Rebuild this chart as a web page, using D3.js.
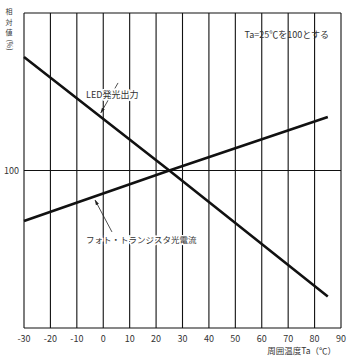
<!DOCTYPE html>
<html>
<head>
<meta charset="utf-8">
<script src="https://cdn.jsdelivr.net/npm/d3@7"></script>
<style>
  body { margin: 0; background: #fff; }
  text { font-family: "Noto Sans CJK JP", "Noto Sans", sans-serif; fill: #333; }
</style>
</head>
<body>
<div id="chart"></div>
<script>
// Chart data
const temps = [-30, 25, 85];
const ledOutput = [136, 100, 60];
const photoCurrent = [84, 100, 117];
const xTicks = [-30, -20, -10, 0, 10, 20, 30, 40, 50, 60, 70, 80, 90];
const yTicks = [100];
const yTitleChars = ["相", "対", "値"];

// Annotation anchors, in data units
const ledNote = { text: "LED発光出力", at: [-6.5, 123], from: [5.6, 127.8], to: [-0.9, 118.3] };
const photoNote = { text: "フォト・トランジスタ光電流", at: [-6.5, 77], from: [3.3, 80.5], to: [-3.1, 90.6] };

const W = 353, H = 359;
const margin = { top: 13, right: 12, bottom: 31, left: 24 };

const svg = d3.select("#chart").append("svg")
    .attr("width", W).attr("height", H);

const x = d3.scaleLinear().domain([-30, 90]).range([margin.left, W - margin.right]);
const y = d3.scaleLinear().domain([50, 150]).range([H - margin.bottom, margin.top]);

svg.append("defs").append("marker")
    .attr("id", "arrow")
    .attr("viewBox", "0 0 10 10")
    .attr("refX", 9).attr("refY", 5)
    .attr("markerWidth", 7).attr("markerHeight", 7)
    .attr("orient", "auto")
  .append("path")
    .attr("d", "M0,2 L10,5 L0,8 Z")
    .attr("fill", "#222");

// vertical grid
svg.append("g").selectAll("line")
    .data(xTicks)
    .join("line")
      .attr("x1", d => x(d)).attr("x2", d => x(d))
      .attr("y1", y(150)).attr("y2", y(50))
      .attr("stroke", "#111").attr("stroke-width", 1.1);

// horizontal lines: top, bottom and 100
svg.append("g").selectAll("line")
    .data([50, 150].concat(yTicks))
    .join("line")
      .attr("x1", x(-30)).attr("x2", x(90))
      .attr("y1", d => y(d)).attr("y2", d => y(d))
      .attr("stroke", "#111").attr("stroke-width", 1.1);

// tick labels
svg.append("g").selectAll("text")
    .data(xTicks)
    .join("text")
      .attr("x", d => x(d))
      .attr("y", y(50) + 14)
      .attr("text-anchor", "middle")
      .attr("font-size", 9)
      .text(d => d);

svg.append("g").selectAll("text")
    .data(yTicks)
    .join("text")
      .attr("x", x(-30) - 5)
      .attr("y", d => y(d) + 3)
      .attr("text-anchor", "end")
      .attr("font-size", 9)
      .text(d => d);

// axis titles
svg.append("text")
    .attr("x", x(90) - 5).attr("y", H - 5)
    .attr("text-anchor", "end")
    .attr("font-size", 8.5)
    .text("周囲温度Ta（℃）");

// vertical y title, one glyph per row
svg.append("g").selectAll("text")
    .data(yTitleChars)
    .join("text")
      .attr("x", 9)
      .attr("y", (d, i) => 14 + i * 10.5)
      .attr("text-anchor", "middle")
      .attr("font-size", 7)
      .text(d => d);
svg.append("text")
    .attr("transform", "translate(7,45) rotate(90)")
    .attr("text-anchor", "middle")
    .attr("font-size", 7)
    .text("(%)");

svg.append("text")
    .attr("x", x(90) - 12).attr("y", y(142))
    .attr("text-anchor", "end")
    .attr("font-size", 9)
    .text("Ta=25℃を100とする");

// data lines
const line = d3.line().x(d => x(d[0])).y(d => y(d[1]));
[ledOutput, photoCurrent].forEach(vals => {
    svg.append("path")
        .datum(d3.zip(temps, vals))
        .attr("d", line)
        .attr("fill", "none")
        .attr("stroke", "#111")
        .attr("stroke-width", 2.6);
});

// annotations
[ledNote, photoNote].forEach(n => {
    svg.append("line")
        .attr("x1", x(n.from[0])).attr("y1", y(n.from[1]))
        .attr("x2", x(n.to[0])).attr("y2", y(n.to[1]))
        .attr("stroke", "#222").attr("stroke-width", 0.8)
        .attr("marker-end", "url(#arrow)");
    svg.append("text")
        .attr("x", x(n.at[0])).attr("y", y(n.at[1]))
        .attr("font-size", n === photoNote ? 8.5 : 9)
        .style("paint-order", "stroke")
        .style("stroke", "#fff").style("stroke-width", 3)
        .text(n.text);
});
</script>
</body>
</html>
